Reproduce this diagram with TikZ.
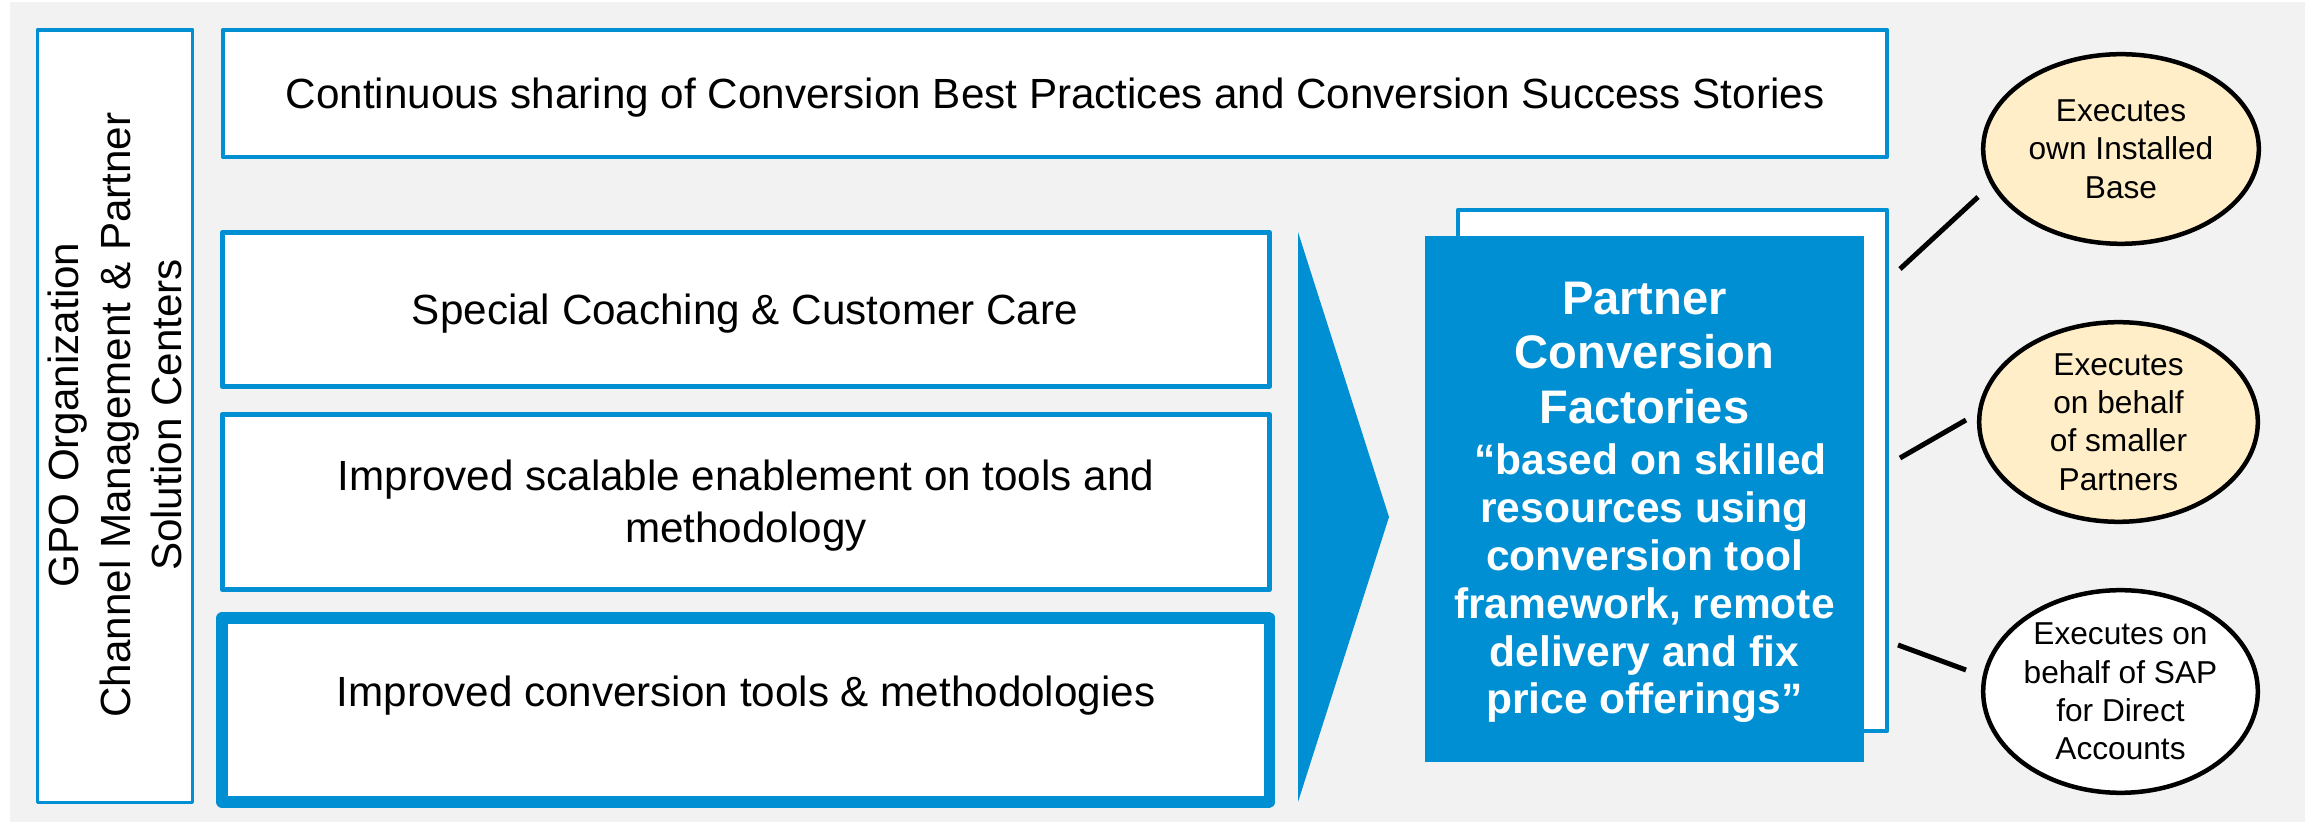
\documentclass[tikz,border=0pt]{standalone}
\usepackage{fontspec}
\setmainfont{Liberation Sans}
\usetikzlibrary{shapes.geometric}
\definecolor{sapblue}{RGB}{0,143,211}
\definecolor{bggray}{RGB}{242,242,242}
\definecolor{cream}{RGB}{255,238,200}
\begin{document}
\begin{tikzpicture}[x=0.01cm,y=-0.01cm,
  bluebox/.style={draw=sapblue, fill=white, rectangle, inner sep=0pt, line join=round},
  maintext/.style={font=\fontsize{12}{14.74}\selectfont, align=center, inner sep=0pt, text=black},
  titletext/.style={font=\fontsize{13.4}{15.5}\selectfont\bfseries, align=center, inner sep=0pt, text=white},
  bodytext/.style={font=\fontsize{12.1}{13.6}\selectfont\bfseries, align=center, inner sep=0pt, text=white},
  ell/.style={ellipse, draw=black, line width=0.045cm, inner sep=0pt, align=center, font=\fontsize{9}{10.9}\selectfont},
  conn/.style={draw=black, line width=0.05cm}
]
\useasboundingbox (0,0) rectangle (2314,822);
\fill[bggray] (10,2) rectangle (2305,822);

% left vertical box
\node[bluebox, line width=0.035cm, minimum width=1.55cm, minimum height=7.725cm] (left) at (115,416.25) {};
\node[maintext, rotate=90] (lefttxt) at (115,415) {GPO Organization\\Channel Management \& Partner\\Solution Centers};

% top box
\node[bluebox, line width=0.04cm, minimum width=16.64cm, minimum height=1.265cm] (top) at (1055,93.25) {};
\node[maintext] (toptxt) at (1055,98) {Continuous sharing of Conversion Best Practices and Conversion Success Stories};

% left boxes
\node[bluebox, line width=0.05cm, minimum width=10.465cm, minimum height=1.54cm] (b2) at (745.75,309.5) {};
\node[maintext] (t2) at (745,314) {Special Coaching \& Customer Care};

\node[bluebox, line width=0.05cm, minimum width=10.465cm, minimum height=1.75cm] (b3) at (745.75,502) {};
\node[maintext] (t3) at (746,506) {Improved scalable enablement on tools and\\methodology};

\node[bluebox, line width=0.115cm, minimum width=10.465cm, minimum height=1.84cm] (b4) at (745.75,710) {};
\node[maintext] (t4) at (746,696) {Improved conversion tools \& methodologies};

% chevron
\fill[sapblue] (1298,232) -- (1389,517) -- (1298,802) -- cycle;

% partner boxes
\node[bluebox, line width=0.04cm, minimum width=4.29cm, minimum height=5.21cm] (back) at (1672.5,470.5) {};
\node[fill=sapblue, rectangle, inner sep=0pt, minimum width=4.39cm, minimum height=5.26cm] (front) at (1644.5,499) {};
\node[titletext] (title) at (1644.5,353) {Partner\\Conversion\\Factories};
\node[bodytext] (body) at (1644.5,583.5) {\kern0.12cm“based on skilled\\resources using\\conversion tool\\framework, remote\\delivery and fix\\price offerings”};

% ellipses
\node[ell, fill=cream, minimum width=2.755cm, minimum height=1.895cm] (e1) at (2121,149) {Executes\\own Installed\\Base};
\node[ell, fill=cream, minimum width=2.785cm, minimum height=1.995cm] (e2) at (2118.5,422) {Executes\\on behalf\\of smaller\\Partners};
\node[ell, fill=white, minimum width=2.745cm, minimum height=2.025cm] (e3) at (2120.5,691.5) {Executes on\\behalf of SAP\\for Direct\\Accounts};

% connectors
\coordinate (k1) at (1900,269); \coordinate (m1) at (1978,197);
\coordinate (k2) at (1900,458); \coordinate (m2) at (1966,420);
\coordinate (k3) at (1898,645); \coordinate (m3) at (1966,670);
\draw[conn] (k1) -- (m1);
\draw[conn] (k2) -- (m2);
\draw[conn] (k3) -- (m3);
\end{tikzpicture}
\end{document}
